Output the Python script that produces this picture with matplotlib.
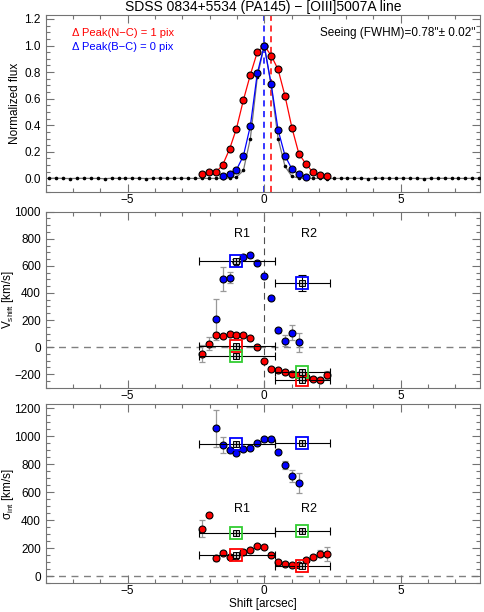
import numpy as np
import matplotlib
matplotlib.use('Agg')
import matplotlib.pyplot as plt
from matplotlib.ticker import MultipleLocator

plt.rcParams['font.family'] = ['Liberation Sans', 'DejaVu Sans']
plt.rcParams['mathtext.fontset'] = 'custom'
plt.rcParams['mathtext.rm'] = 'Liberation Sans'
plt.rcParams['mathtext.it'] = 'Liberation Sans:italic'

pix = 0.254  # arcsec per pixel

# Top panel: normalized flux profiles (pixel index -> flux)
red_idx = list(range(-9, 10))
red_flux = [0.03, 0.05, 0.045, 0.10, 0.22, 0.375, 0.59, 0.78, 0.95, 1.0,
            0.925, 0.82, 0.62, 0.38, 0.185, 0.11, 0.047, 0.027, 0.017]
blue_idx = list(range(-6, 7))
blue_flux = [0.015, 0.03, 0.065, 0.17, 0.395, 0.79, 1.0, 0.71, 0.365, 0.17,
             0.07, 0.03, 0.012]
# seeing profile, pixel -31 .. 31
seeing_idx = list(range(-31, 32))
seeing_left = [0.0, 0.002, 0.0, -0.001, 0.0, 0.001, 0.0, 0.0, -0.002, 0.001,
               0.0, 0.0, 0.001, 0.0, -0.001, 0.0, 0.002, 0.0, 0.0, 0.001,
               0.0, 0.0, 0.001, 0.0, 0.0, 0.001, 0.003]          # -31 .. -5
seeing_core = [0.01, 0.06, 0.30, 0.76, 1.0, 0.70, 0.30, 0.09, 0.015]  # -4 .. 4
seeing_right = [0.003, 0.0, 0.001, 0.0, -0.001, 0.0, 0.0, 0.001, 0.0, 0.0,
                -0.001, 0.0, 0.002, 0.0, 0.0, 0.001, 0.0, 0.0, -0.001, 0.0,
                0.0, 0.001, 0.0, 0.0, 0.0, 0.001, 0.0]          # 5 .. 31
seeing_flux = seeing_left + seeing_core + seeing_right
blue_peak_shift = 0.0
red_peak_shift = 1 * pix

# Middle panel: velocity shift
v_blue_idx = list(range(-7, 6))
v_blue = [206, 502, 512, 631, 666, 678, 621, 524, 363, 124, 47, 105, 35]
v_blue_err = [150, 87, 42, 12, 10, 10, 10, 10, 10, 20, 40, 55, 70]
v_red_idx = list(range(-9, 10))
v_red = [-50, 25, 92, 82, 97, 90, 90, 70, 0, -104, -161, -171, -181, -196,
         -205, -223, -233, -241, -206]
v_red_err = [62, 50, 12, 10, 10, 10, 10, 10, 10, 12, 12, 12, 12, 12, 12, 15,
             15, 20, 30]

# Bottom panel: velocity dispersion
s_blue_idx = list(range(-7, 6))
s_blue = [1057, 939, 903, 882, 908, 920, 951, 980, 985, 887, 794, 717, 669]
s_blue_err = [134, 60, 15, 12, 10, 10, 10, 10, 10, 15, 29, 43, 72]
s_red_idx = list(range(-9, 10))
s_red = [340, 440, 129, 168, 139, 148, 175, 186, 215, 213, 153, 105, 91, 84,
         80, 118, 139, 163, 158]
s_red_err = [60, 10, 19, 10, 10, 10, 10, 10, 10, 10, 10, 10, 10, 10, 10, 10,
             12, 25, 50]

# Integrated regions R1 / R2
region_names = ['R1', 'R2']
region_lo = [-2.38, 0.38]
region_hi = [0.38, 2.41]
region_ctr = [-1.02, 1.39]
v_reg_blue = [639, 472]
v_reg_blue_err = [12, 57]
v_reg_red = [10, -243]
v_reg_green = [-69, -184]
s_reg_blue = [944, 956]
s_reg_red = [151, 77]
s_reg_green = [311, 327]

W, H = 484, 612
fig = plt.figure(figsize=(W / 100, H / 100), dpi=100)
L, R = 45.7, 480


def make_ax(top, bot):
    return fig.add_axes([L / W, 1 - bot / H, (R - L) / W, (bot - top) / H])


ax1 = make_ax(15, 191.7)
ax2 = make_ax(211.7, 387.7)
ax3 = make_ax(404.3, 583.3)

spine_col = '0.45'
for ax in (ax1, ax2, ax3):
    ax.set_xlim(-8, 7.9)
    ax.xaxis.set_major_locator(MultipleLocator(5))
    ax.xaxis.set_minor_locator(MultipleLocator(1))
    ax.tick_params(which='both', direction='in', top=True, right=True,
                   colors=spine_col, labelcolor='black', labelsize=8.5, width=0.8)
    ax.tick_params(which='major', length=6)
    ax.tick_params(which='minor', length=3)
    ax.tick_params(axis='x', pad=1.5)
    for s in ax.spines.values():
        s.set_color(spine_col)
        s.set_linewidth(0.8)

# ---- top panel ----
sx = [i * pix for i in seeing_idx]
ax1.plot(sx, seeing_flux, '-', color='0.45', lw=0.9, zorder=2)
ax1.plot(sx, seeing_flux, 'o', color='black', ms=1.6, zorder=3)
rx = [i * pix for i in red_idx]
bx = [i * pix for i in blue_idx]
ax1.plot(rx, red_flux, '-', color='red', lw=0.9, zorder=3)
ax1.plot(rx, red_flux, 'o', mfc='red', mec='black', ms=5, mew=0.8, zorder=4)
ax1.plot(bx, blue_flux, '-', color='blue', lw=0.9, zorder=3)
ax1.plot(bx, blue_flux, 'o', mfc='blue', mec='black', ms=5, mew=0.8, zorder=5)
ax1.axvline(blue_peak_shift, color='blue', ls=(0, (4, 3)), lw=1.1, zorder=1)
ax1.axvline(red_peak_shift, color='red', ls=(0, (4, 3)), lw=1.1, zorder=1)
ax1.set_ylim(-0.1, 1.23)
ax1.yaxis.set_major_locator(MultipleLocator(0.2))
ax1.yaxis.set_minor_locator(MultipleLocator(0.05))
ax1.yaxis.set_major_formatter(matplotlib.ticker.FormatStrFormatter('%.1f'))
ax1.set_ylabel('Normalized flux', fontsize=8.5)
ax1.yaxis.set_label_coords(-0.057, 0.5)
ax1.text((72 - L) / (R - L), 1 - (33.3 - 15) / 176.7,
         '\u0394 Peak(N\u2212C) = 1 pix', color='red', fontsize=8,
         transform=ax1.transAxes, va='center', ha='left')
ax1.text((72 - L) / (R - L), 1 - (46.7 - 15) / 176.7,
         '\u0394 Peak(B\u2212C) = 0 pix', color='blue', fontsize=8,
         transform=ax1.transAxes, va='center', ha='left')
ax1.text((476 - L) / (R - L), 1 - (33.3 - 15) / 176.7,
         'Seeing (FWHM)=0.78\'\'\u00b1 0.02\'\'', color='black', fontsize=8.5,
         transform=ax1.transAxes, va='center', ha='right')
ax1.set_title('SDSS 0834+5534 (PA145) \u2212 [OIII]5007A line', fontsize=10,
              pad=3)


def points(ax, idx, vals, errs, col, z):
    x = [i * pix for i in idx]
    ax.errorbar(x, vals, yerr=errs, fmt='none', ecolor='0.6', elinewidth=0.9,
                capsize=2.5, capthick=0.9, zorder=z)
    ax.plot(x, vals, 'o', mfc=col, mec='black', ms=5, mew=0.8, zorder=z + 1)


def regions(ax, vals, col, yerr=None):
    xl = [c - lo for c, lo in zip(region_ctr, region_lo)]
    xh = [hi - c for c, hi in zip(region_ctr, region_hi)]
    ax.errorbar(region_ctr, vals, xerr=[xl, xh], yerr=yerr, fmt='none',
                ecolor='black', elinewidth=0.8, capsize=3, capthick=0.8,
                zorder=6)
    ax.plot(region_ctr, vals, 's', mfc='none', mec=col, ms=8, mew=1.3,
            zorder=8)
    ax.plot(region_ctr, vals, 's', mfc='0.75', mec='black', ms=5, mew=0.7,
            zorder=9)
    ax.plot(region_ctr, vals, '+', color='black', ms=5, mew=0.7, zorder=10)


# ---- middle panel ----
ax2.axvline(0, color='0.3', ls=(0, (6, 4)), lw=0.8, zorder=1)
ax2.axhline(0, color='0.5', ls=(0, (5, 4)), lw=1.0, zorder=1)
points(ax2, v_blue_idx, v_blue, v_blue_err, 'blue', 3)
points(ax2, v_red_idx, v_red, v_red_err, 'red', 3)
regions(ax2, v_reg_blue, 'blue', yerr=v_reg_blue_err)
regions(ax2, v_reg_red, 'red')
regions(ax2, v_reg_green, 'limegreen')
for name, xx in zip(region_names, [-0.83, 1.63]):
    ax2.text(xx, 832, name, fontsize=9, ha='center', va='center')
ax2.set_ylim(-300, 1000)
ax2.yaxis.set_major_locator(MultipleLocator(200))
ax2.yaxis.set_minor_locator(MultipleLocator(50))
ax2.set_ylabel(r'V$_{\rm shift}$ [km/s]', fontsize=8.5)
ax2.yaxis.set_label_coords(-0.068, 0.5)

# ---- bottom panel ----
ax3.axhline(0, color='0.5', ls=(0, (5, 4)), lw=1.0, zorder=1)
points(ax3, s_blue_idx, s_blue, s_blue_err, 'blue', 3)
points(ax3, s_red_idx, s_red, s_red_err, 'red', 3)
regions(ax3, s_reg_blue, 'blue')
regions(ax3, s_reg_red, 'red')
regions(ax3, s_reg_green, 'limegreen')
for name, xx in zip(region_names, [-0.83, 1.63]):
    ax3.text(xx, 483, name, fontsize=9, ha='center', va='center')
ax3.set_ylim(-50, 1230)
ax3.yaxis.set_major_locator(MultipleLocator(200))
ax3.yaxis.set_minor_locator(MultipleLocator(50))
ax3.set_ylabel('\u03c3$_{\\rm int}$ [km/s]', fontsize=8.5)
ax3.yaxis.set_label_coords(-0.068, 0.5)
ax3.set_xlabel('Shift [arcsec]', fontsize=8.5)
ax3.xaxis.set_label_coords(0.5, -0.084)

fig.savefig('out.png', dpi=100)
